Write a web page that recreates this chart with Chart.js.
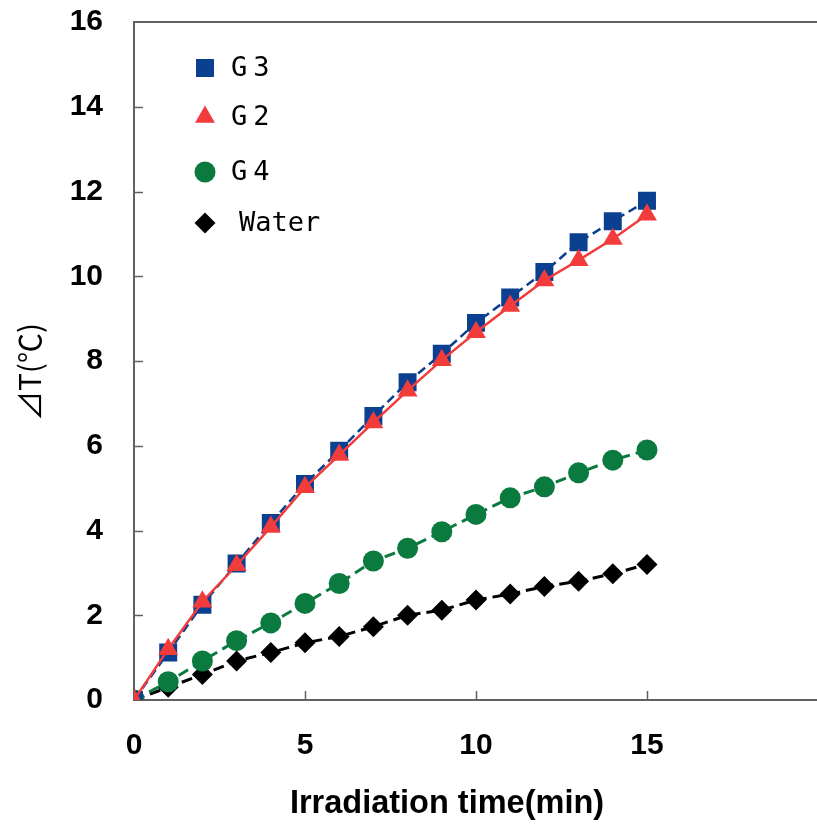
<!DOCTYPE html>
<html>
<head>
<meta charset="utf-8">
<script src="https://cdn.jsdelivr.net/npm/chart.js@4/dist/chart.umd.min.js"></script>
<style>
html,body{margin:0;padding:0;background:#fff;overflow:hidden;}
#wrap{width:817px;height:825px;}
</style>
</head>
<body>
<div id="wrap"><canvas id="c" width="817" height="825"></canvas></div>
<script>
const timeMin = [0,1,2,3,4,5,6,7,8,9,10,11,12,13,14,15];
const g3 = [0,1.12,2.25,3.22,4.18,5.1,5.88,6.7,7.5,8.17,8.9,9.5,10.1,10.8,11.3,11.78];
const g2 = [0,1.2,2.32,3.18,4.08,5.02,5.78,6.55,7.3,8.02,8.68,9.3,9.9,10.38,10.88,11.45];
const g4 = [0,0.43,0.92,1.4,1.82,2.28,2.75,3.28,3.58,3.97,4.38,4.77,5.03,5.36,5.66,5.9];
const water = [0,0.3,0.6,0.92,1.12,1.35,1.5,1.73,2.0,2.12,2.36,2.5,2.68,2.8,2.98,3.2];
const xTicks = [0,5,10,15];
const yTicks = [0,2,4,6,8,10,12,14,16];
const seriesNames = ['G3','G2','G4','Water'];
const xTitle = 'Irradiation time(min)';
const yTitle = '⊿T(℃)';

const toPts = v => timeMin.map((t,i)=>({x:t,y:v[i]}));
const C_G3='#0b3f8f', C_G2='#f23c3c', C_G4='#0b7a3e', C_W='#000000';

// index 0 drawn on top
const datasets = [
 {label:seriesNames[1], data:toPts(g2), borderColor:C_G2, backgroundColor:C_G2, pointStyle:'triangle', pointRadius:11.5, borderWidth:2.5, pointBorderWidth:0},
 {label:seriesNames[0], data:toPts(g3), borderColor:C_G3, backgroundColor:C_G3, pointStyle:'rect', pointRadius:12.7, borderWidth:2.5, borderDash:[9,5], pointBorderWidth:0},
 {label:seriesNames[2], data:toPts(g4), borderColor:C_G4, backgroundColor:C_G4, pointStyle:'circle', pointRadius:10.5, borderWidth:3, borderDash:[11,6], pointBorderWidth:0},
 {label:seriesNames[3], data:toPts(water), borderColor:C_W, backgroundColor:C_W, pointStyle:'rectRot', pointRadius:10.5, borderWidth:3, borderDash:[11,6], pointBorderWidth:0}
];
datasets.forEach(d=>{d.tension=0;d.fill=false;d.pointHoverRadius=d.pointRadius;});

const legendItems = [
 {text:seriesNames[0], style:'rect', r:12.7, color:C_G3, y:68, tx:231, sp:6},
 {text:seriesNames[1], style:'triangle', r:11.5, color:C_G2, y:117, tx:231, sp:6},
 {text:seriesNames[2], style:'circle', r:10.5, color:C_G4, y:172, tx:231, sp:6},
 {text:seriesNames[3], style:'rectRot', r:10.5, color:C_W, y:223, tx:239, sp:0}
];

const frame = {
 id:'frame',
 afterDraw(chart){
  const ctx=chart.ctx, a=chart.chartArea, xs=chart.scales.x, ys=chart.scales.y, W=chart.width;
  ctx.save();
  ctx.strokeStyle='#606060'; ctx.lineWidth=2;
  ctx.beginPath(); ctx.moveTo(a.left-1,a.top); ctx.lineTo(W,a.top); ctx.stroke();
  ctx.beginPath(); ctx.moveTo(a.right-1,a.bottom); ctx.lineTo(W,a.bottom); ctx.stroke();
  ctx.lineWidth=1.5;
  ys.ticks.forEach(t=>{ if(t.value<=0||t.value>=16) return; const p=Math.round(ys.getPixelForValue(t.value))+0.5; ctx.beginPath(); ctx.moveTo(a.left,p); ctx.lineTo(a.left+9,p); ctx.stroke();});
  xs.ticks.forEach(t=>{ if(t.value<=0||t.value>15) return; const p=Math.round(xs.getPixelForValue(t.value))+0.5; ctx.beginPath(); ctx.moveTo(p,a.bottom); ctx.lineTo(p,a.bottom-9); ctx.stroke();});
  // axis titles
  ctx.fillStyle='#000';
  ctx.textAlign='center'; ctx.textBaseline='middle';
  ctx.font='bold 32.5px "Liberation Sans", Arial, sans-serif';
  ctx.fillText(xTitle,447,804);
  ctx.save();
  ctx.translate(30,372); ctx.rotate(-Math.PI/2);
  ctx.font='30px "Noto Sans CJK JP", "Liberation Sans", sans-serif';
  ctx.fillText(yTitle,0,0);
  ctx.restore();
  // legend
  legendItems.forEach(it=>{
    const x=205, y=it.y;
    ctx.fillStyle=it.color;
    if (Chart.helpers && Chart.helpers.drawPoint) {
      Chart.helpers.drawPoint(ctx,{pointStyle:it.style,rotation:0,borderWidth:0,radius:it.r},x,y);
    }
    ctx.fillStyle='#000';
    ctx.font='500 27px "DejaVu Sans Mono", monospace';
    ctx.textBaseline='middle'; ctx.textAlign='left';
    try{ ctx.letterSpacing = it.sp+'px'; }catch(e){}
    ctx.fillText(it.text,it.tx,y+1);
    try{ ctx.letterSpacing='0px'; }catch(e){}
  });
  ctx.restore();
 }
};

new Chart(document.getElementById('c'),{
 type:'line',
 data:{datasets},
 options:{
  responsive:false, animation:false,
  layout:{padding:{top:22,right:0,left:0,bottom:0}},
  plugins:{legend:{display:false},tooltip:{enabled:false}},
  scales:{
   x:{type:'linear',min:0,max:19.6,
      afterBuildTicks(s){s.ticks=xTicks.map(v=>({value:v}));},
      afterFit(s){s.height=125;s.paddingLeft=0;s.paddingRight=0;},
      grid:{display:false,drawTicks:false},
      border:{display:true,color:'#606060',width:2},
      ticks:{color:'#000',padding:28,font:{family:'"Liberation Sans", Arial, sans-serif',size:30,weight:'bold'}},
      title:{display:false}
   },
   y:{type:'linear',min:0,max:16,
      afterBuildTicks(s){s.ticks=yTicks.map(v=>({value:v}));},
      afterFit(s){s.width=134;s.paddingTop=0;s.paddingBottom=0;},
      grid:{display:false,drawTicks:false},
      border:{display:true,color:'#606060',width:2},
      ticks:{color:'#000',padding:31,font:{family:'"Liberation Sans", Arial, sans-serif',size:30,weight:'bold'}},
      title:{display:false}
   }
  }
 },
 plugins:[frame]
});
</script>
</body>
</html>
